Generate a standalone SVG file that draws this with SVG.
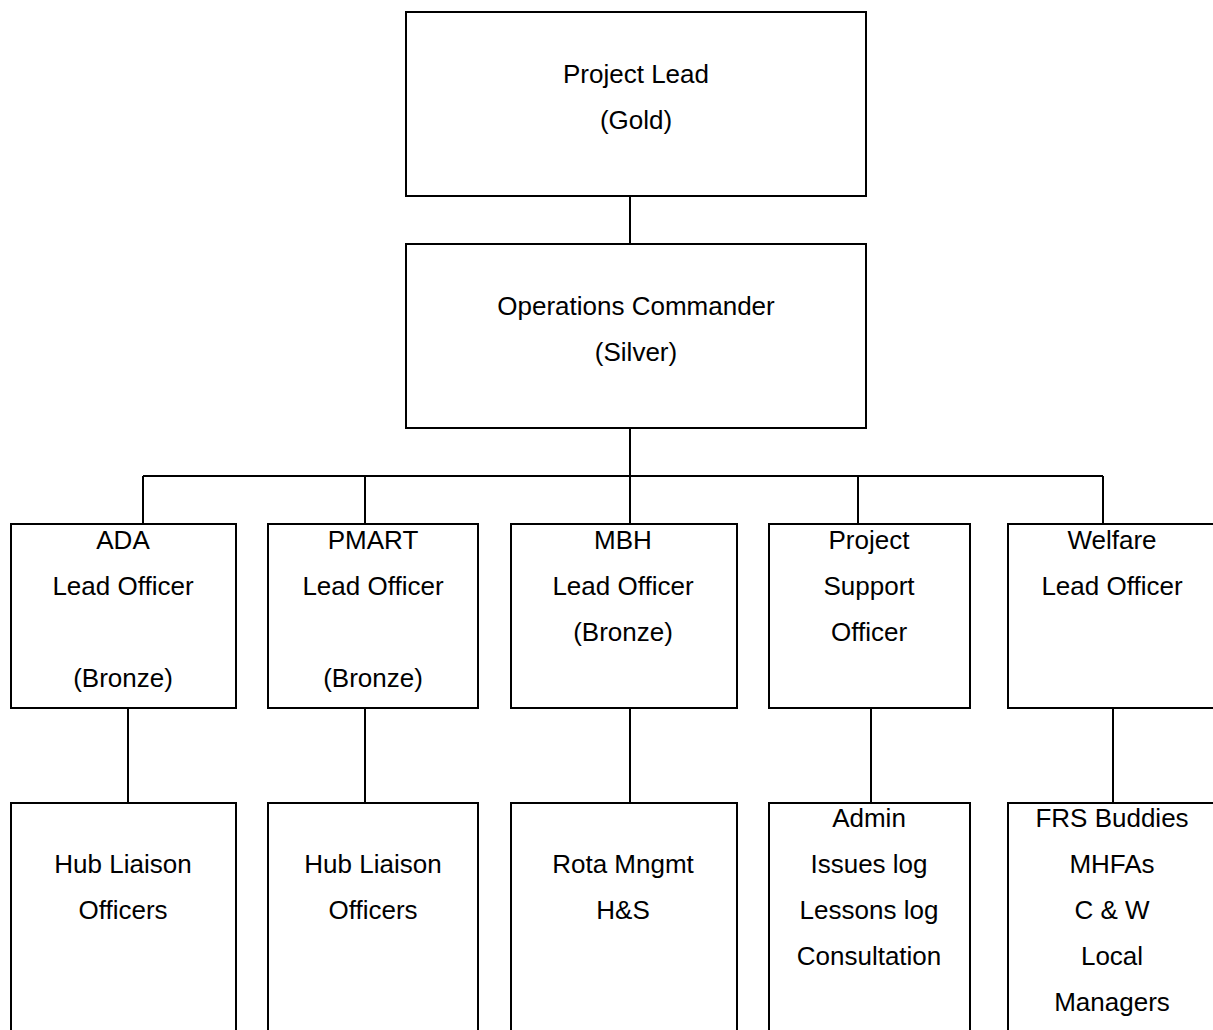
<svg xmlns="http://www.w3.org/2000/svg" width="1213" height="1030" viewBox="0 0 1213 1030">
<style>
.box{fill:#fff;stroke:#000;stroke-width:2}
.ln{fill:none;stroke:#000;stroke-width:2}
text{font-family:"Liberation Sans",Arial,sans-serif;font-size:26px;fill:#000;text-anchor:middle}
</style>
<rect width="1213" height="1030" fill="#fff"/>
<g id="connectors">
<line class="ln" x1="630" y1="196" x2="630" y2="244"/>
<line class="ln" x1="630" y1="428" x2="630" y2="524"/>
<line class="ln" x1="143" y1="476" x2="1103" y2="476"/>
<line class="ln" x1="143" y1="476" x2="143" y2="524"/>
<line class="ln" x1="365" y1="476" x2="365" y2="524"/>
<line class="ln" x1="858" y1="476" x2="858" y2="524"/>
<line class="ln" x1="1103" y1="476" x2="1103" y2="524"/>
<line class="ln" x1="128" y1="708" x2="128" y2="803"/>
<line class="ln" x1="365" y1="708" x2="365" y2="803"/>
<line class="ln" x1="630" y1="708" x2="630" y2="803"/>
<line class="ln" x1="871" y1="708" x2="871" y2="803"/>
<line class="ln" x1="1113" y1="708" x2="1113" y2="803"/>
</g>
<g id="gold">
<rect class="box" x="406" y="12" width="460" height="184"/>
<text x="636" y="83">Project Lead</text>
<text x="636" y="129">(Gold)</text>
</g>
<g id="silver">
<rect class="box" x="406" y="244" width="460" height="184"/>
<text x="636" y="315">Operations Commander</text>
<text x="636" y="361">(Silver)</text>
</g>
<g id="ada">
<rect class="box" x="11" y="524" width="225" height="184"/>
<text x="123" y="549">ADA</text>
<text x="123" y="595">Lead Officer</text>
<text x="123" y="687">(Bronze)</text>
</g>
<g id="pmart">
<rect class="box" x="268" y="524" width="210" height="184"/>
<text x="373" y="549">PMART</text>
<text x="373" y="595">Lead Officer</text>
<text x="373" y="687">(Bronze)</text>
</g>
<g id="mbh">
<rect class="box" x="511" y="524" width="226" height="184"/>
<text x="623" y="549">MBH</text>
<text x="623" y="595">Lead Officer</text>
<text x="623" y="641">(Bronze)</text>
</g>
<g id="support">
<rect class="box" x="769" y="524" width="201" height="184"/>
<text x="869" y="549">Project</text>
<text x="869" y="595">Support</text>
<text x="869" y="641">Officer</text>
</g>
<g id="welfare">
<rect class="box" x="1008" y="524" width="208" height="184"/>
<text x="1112" y="549">Welfare</text>
<text x="1112" y="595">Lead Officer</text>
</g>
<g id="ada-hub">
<rect class="box" x="11" y="803" width="225" height="240"/>
<text x="123" y="873">Hub Liaison</text>
<text x="123" y="919">Officers</text>
</g>
<g id="pmart-hub">
<rect class="box" x="268" y="803" width="210" height="240"/>
<text x="373" y="873">Hub Liaison</text>
<text x="373" y="919">Officers</text>
</g>
<g id="rota">
<rect class="box" x="511" y="803" width="226" height="240"/>
<text x="623" y="873">Rota Mngmt</text>
<text x="623" y="919">H&amp;S</text>
</g>
<g id="admin">
<rect class="box" x="769" y="803" width="201" height="240"/>
<text x="869" y="827">Admin</text>
<text x="869" y="873">Issues log</text>
<text x="869" y="919">Lessons log</text>
<text x="869" y="965">Consultation</text>
</g>
<g id="frs">
<rect class="box" x="1008" y="803" width="208" height="240"/>
<text x="1112" y="827">FRS Buddies</text>
<text x="1112" y="873">MHFAs</text>
<text x="1112" y="919">C &amp; W</text>
<text x="1112" y="965">Local</text>
<text x="1112" y="1011">Managers</text>
</g>
</svg>
